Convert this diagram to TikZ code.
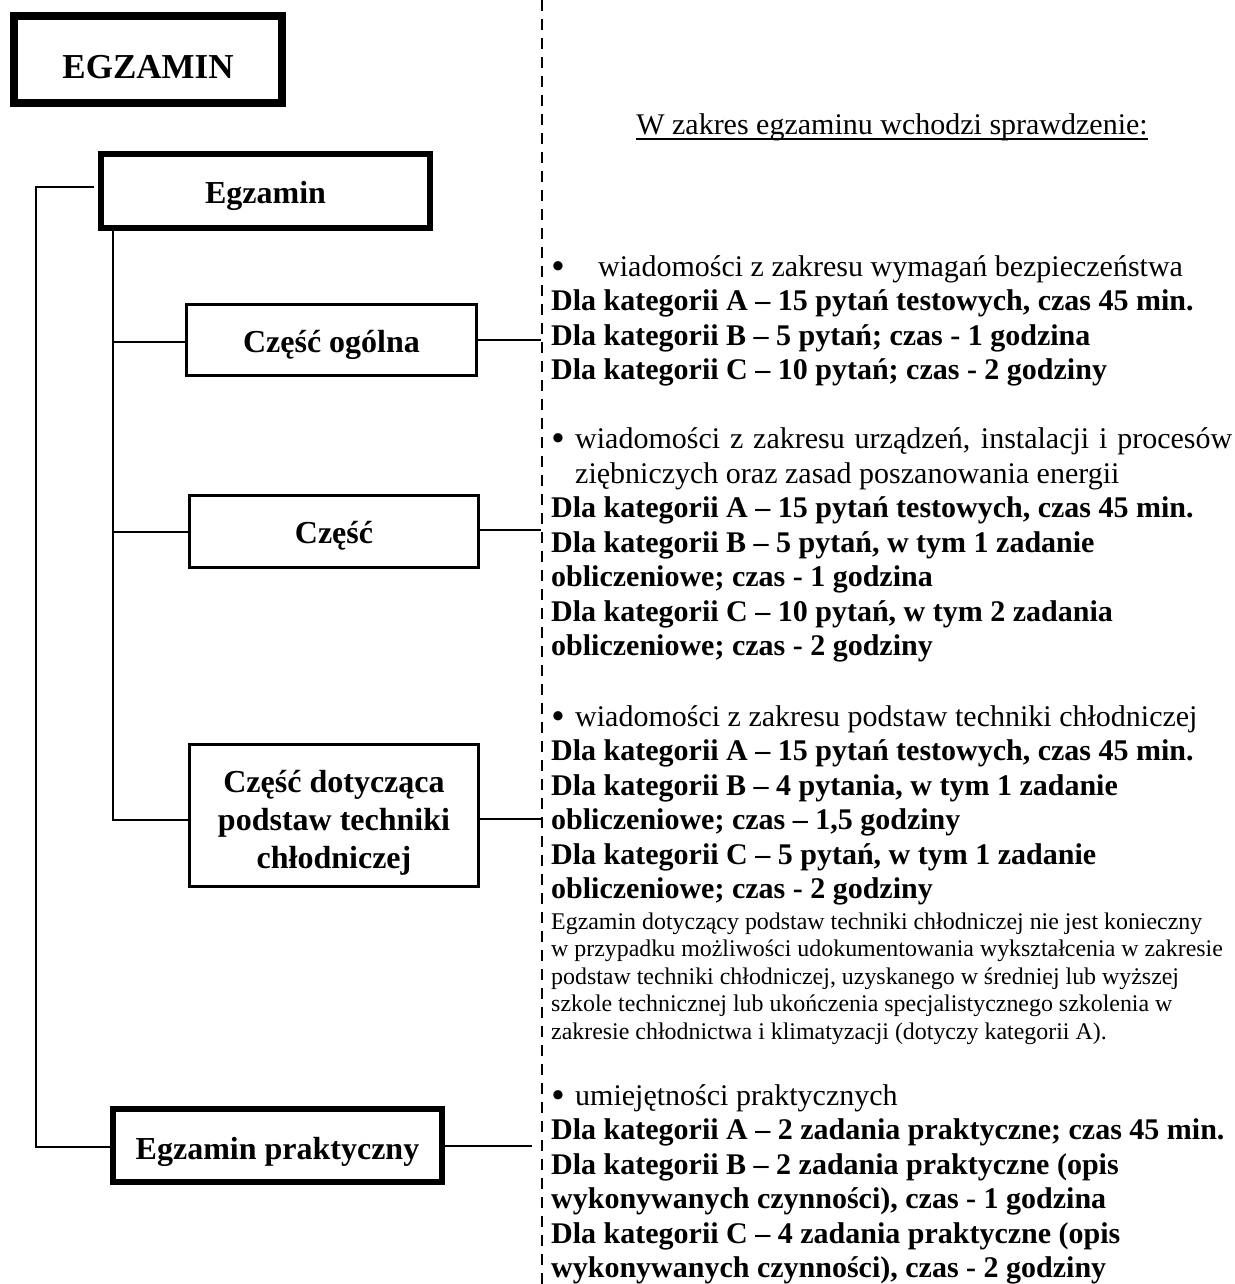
\documentclass[tikz,border=0pt]{standalone}
\usepackage{fontspec}
\setmainfont{Liberation Serif}
\begin{document}
\begin{tikzpicture}[x=1pt,y=-1pt,
  thickbox/.style={draw, line width=6pt, inner sep=0pt, minimum width=329pt, minimum height=74pt},
  thinbox/.style={draw, line width=3pt, inner sep=0pt},
  conn/.style={line width=2pt},
  dashline/.style={line width=2.5pt, dash pattern=on 11pt off 8pt},
  boxlbl/.style={anchor=base, inner sep=0pt, font=\fontsize{32}{37}\selectfont\bfseries},
  bl/.style={anchor=base west, inner sep=0pt, font=\fontsize{30}{34.5}\selectfont\bfseries},
  rl/.style={anchor=base west, inner sep=0pt, font=\fontsize{30}{34.5}\selectfont},
  bul/.style={anchor=base west, inner sep=0pt, font=\fontsize{34}{34.5}\selectfont\bfseries},
  sl/.style={anchor=base west, inner sep=0pt, font=\fontsize{23.9}{27.5}\selectfont}]
\useasboundingbox (0,0) rectangle (1234,1284);
\fill[white] (0,0) rectangle (1234,1284);

% ---- boxes ----
\node[draw, line width=8pt, inner sep=0pt, minimum width=268pt, minimum height=87pt] (main) at (148,60) {};
\node[anchor=base, inner sep=0pt, font=\fontsize{35}{40}\selectfont\bfseries] (maint) at (148,79) {EGZAMIN};

\node[thickbox] (egz) at (265.5,191) {};
\node[boxlbl] (egzt) at (265.5,204) {Egzamin};

\node[thinbox, minimum width=290pt, minimum height=71pt] (cz1) at (331.5,340) {};
\node[boxlbl] (cz1t) at (331.5,352) {Część ogólna};

\node[thinbox, minimum width=289pt, minimum height=72pt] (cz2) at (334,531.5) {};
\node[boxlbl] (cz2t) at (334,543) {Część};

\node[thinbox, minimum width=289pt, minimum height=142pt] (cz3) at (334,815.5) {};
\node[boxlbl] (cz3a) at (334,792) {Część dotycząca};
\node[boxlbl] (cz3b) at (334,830) {podstaw techniki};
\node[boxlbl] (cz3c) at (334,868) {chłodniczej};

\node[thickbox, minimum height=73pt] (prak) at (277.5,1145.5) {};
\node[boxlbl] (prakt) at (277.5,1159) {Egzamin praktyczny};

% ---- dashed separator ----
\coordinate (dtop) at (542,0);
\coordinate (dbot) at (542,1284);
\draw[dashline] (dtop) -- (dbot);

% ---- tree connectors ----
\coordinate (otop) at (35.5,187);
\coordinate (otopend) at (94,187);
\coordinate (obot) at (35.5,1147);
\draw[conn] (otopend) -- (otop) -- (obot) -- (obot -| prak.west);

\coordinate (b1) at (113,342);
\coordinate (b2) at (113,532);
\coordinate (b3) at (113,820);
\draw[conn] (egz.south -| b1) -- (b3) -- (b3 -| cz3.west);
\draw[conn] (b1) -- (b1 -| cz1.west);
\draw[conn] (b2) -- (b2 -| cz2.west);

\coordinate (r1) at (541,340);
\coordinate (r2) at (541,530);
\coordinate (r3) at (541,819);
\coordinate (r4) at (532,1146);
\draw[conn] (r1 -| cz1.east) -- (r1);
\draw[conn] (r2 -| cz2.east) -- (r2);
\draw[conn] (r3 -| cz3.east) -- (r3);
\draw[conn] (r4 -| prak.east) -- (r4);

% ---- heading ----
\node[anchor=base, inner sep=0pt, font=\fontsize{30}{34.5}\selectfont] (head) at (892,135) {W zakres egzaminu wchodzi sprawdzenie:};
\draw[line width=1.5pt] ([yshift=-4pt]head.base west) -- ([yshift=-4pt]head.base east);

% ---- block 1 ----
\node[bul] (p1) at (552,277) {•};
\node[rl] (t1) at (598,276) {wiadomości z zakresu wymagań bezpieczeństwa};
\node[bl] (t1a) at (551,310.5) {Dla kategorii A – 15 pytań testowych, czas 45 min.};
\node[bl] (t1b) at (551,345) {Dla kategorii B – 5 pytań; czas - 1 godzina};
\node[bl] (t1c) at (551,379.5) {Dla kategorii C – 10 pytań; czas - 2 godziny};

% ---- block 2 ----
\node[bul] (p2) at (552,449.5) {•};
\node[rl] (t2) at (575,448.5) {\makebox[657pt][s]{wiadomości z zakresu urządzeń, instalacji i procesów}};
\node[rl] (t2x) at (575,483) {ziębniczych oraz zasad poszanowania energii};
\node[bl] (t2a) at (551,517.5) {Dla kategorii A – 15 pytań testowych, czas 45 min.};
\node[bl] (t2b) at (551,552) {Dla kategorii B – 5 pytań, w tym 1 zadanie};
\node[bl] (t2c) at (551,586.5) {obliczeniowe; czas - 1 godzina};
\node[bl] (t2d) at (551,621) {Dla kategorii C – 10 pytań, w tym 2 zadania};
\node[bl] (t2e) at (551,655.5) {obliczeniowe; czas - 2 godziny};

% ---- block 3 ----
\node[bul] (p3) at (552,727) {•};
\node[rl] (t3) at (575,726) {wiadomości z zakresu podstaw techniki chłodniczej};
\node[bl] (t3a) at (551,760.5) {Dla kategorii A – 15 pytań testowych, czas 45 min.};
\node[bl] (t3b) at (551,795) {Dla kategorii B – 4 pytania, w tym 1 zadanie};
\node[bl] (t3c) at (551,829.5) {obliczeniowe; czas – 1,5 godziny};
\node[bl] (t3d) at (551,864) {Dla kategorii C – 5 pytań, w tym 1 zadanie};
\node[bl] (t3e) at (551,898.5) {obliczeniowe; czas - 2 godziny};
\node[sl] (s1) at (551,929) {Egzamin dotyczący podstaw techniki chłodniczej nie jest konieczny};
\node[sl] (s2) at (551,956.5) {w przypadku możliwości udokumentowania wykształcenia w zakresie};
\node[sl] (s3) at (551,984) {podstaw techniki chłodniczej, uzyskanego w średniej lub wyższej};
\node[sl] (s4) at (551,1011.5) {szkole technicznej lub ukończenia specjalistycznego szkolenia w};
\node[sl] (s5) at (551,1039) {zakresie chłodnictwa i klimatyzacji (dotyczy kategorii A).};

% ---- block 4 ----
\node[bul] (p4) at (552,1106) {•};
\node[rl] (t4) at (575,1105) {umiejętności praktycznych};
\node[bl] (t4a) at (551,1139.5) {Dla kategorii A – 2 zadania praktyczne; czas 45 min.};
\node[bl] (t4b) at (551,1174) {Dla kategorii B – 2 zadania praktyczne (opis};
\node[bl] (t4c) at (551,1208.5) {wykonywanych czynności), czas - 1 godzina};
\node[bl] (t4d) at (551,1243) {Dla kategorii C – 4 zadania praktyczne (opis};
\node[bl] (t4e) at (551,1277.5) {wykonywanych czynności), czas - 2 godziny};
\end{tikzpicture}
\end{document}
